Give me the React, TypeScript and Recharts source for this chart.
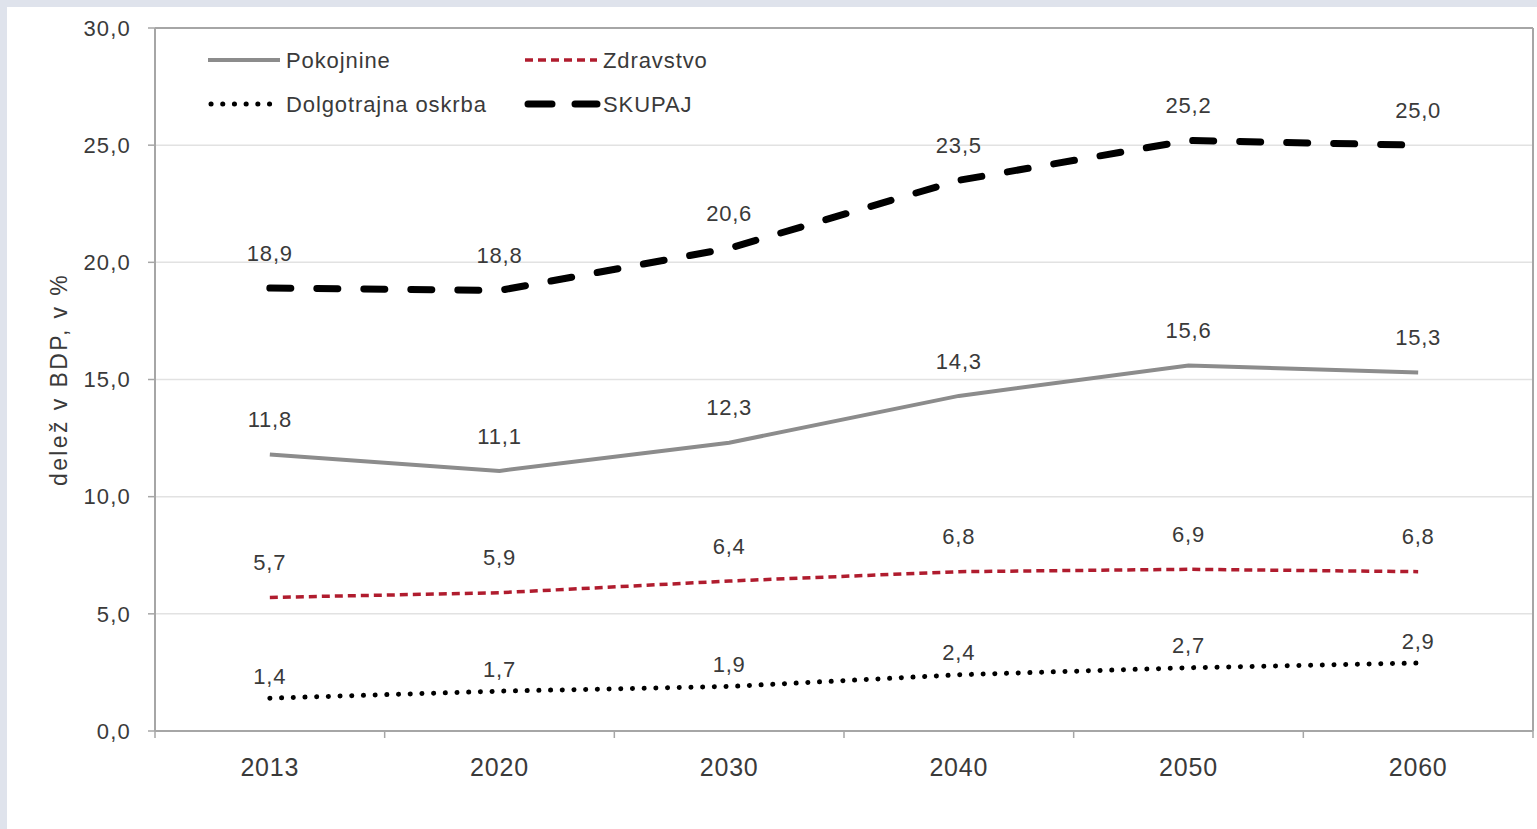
import React from 'react';
import { LineChart, Line, XAxis, YAxis, CartesianGrid, ReferenceLine, LabelList } from 'recharts';

const categories = ['2013', '2020', '2030', '2040', '2050', '2060'];
const pokojnine = [11.8, 11.1, 12.3, 14.3, 15.6, 15.3];
const zdravstvo = [5.7, 5.9, 6.4, 6.8, 6.9, 6.8];
const dolgotrajna = [1.4, 1.7, 1.9, 2.4, 2.7, 2.9];
const skupaj = [18.9, 18.8, 20.6, 23.5, 25.2, 25.0];
const yTicks = [0, 5, 10, 15, 20, 25, 30];
const xBoundaries = [0, 1, 2, 3, 4, 5, 6];

const data = categories.map((c, i) => ({
  pos: i + 0.5,
  year: c,
  pokojnine: pokojnine[i],
  zdravstvo: zdravstvo[i],
  dolgotrajna: dolgotrajna[i],
  skupaj: skupaj[i],
}));

const CHART_W = 1530;
const CHART_H = 822;
const MARGIN = { top: 21, right: 4, left: 8, bottom: 38 };
const Y_AXIS_W = 140;
const PLOT_W = CHART_W - MARGIN.left - Y_AXIS_W - MARGIN.right;
const BAND = PLOT_W / categories.length;

const TEXT = '#3a3a3a';
const AXIS = '#a6a6a6';
const FONT = '"Liberation Sans", Arial, sans-serif';

const fmt = (v: number) => v.toFixed(1).replace('.', ',');

const XTick = (props: any) => {
  const { x, y, payload } = props;
  const idx = payload.value;
  if (idx >= categories.length) return null;
  return (
    <text x={x + BAND / 2} y={y + 27} dy="0.35em" textAnchor="middle" fill={TEXT}
      fontSize={25} letterSpacing={0.8} fontFamily={FONT}>
      {categories[idx]}
    </text>
  );
};

const YTick = (props: any) => {
  const { x, y, payload } = props;
  return (
    <text x={x} y={y} dy="0.35em" textAnchor="end" fill={TEXT}
      fontSize={22} letterSpacing={1.2} fontFamily={FONT}>
      {fmt(payload.value)}
    </text>
  );
};

const YLabel = (props: any) => {
  const { viewBox } = props;
  const cx = 52;
  const cy = viewBox.y + viewBox.height / 2;
  return (
    <text x={cx} y={cy} dy="0.35em" textAnchor="middle" fill={TEXT} fontSize={23}
      letterSpacing={2.4} fontFamily={FONT} transform={`rotate(-90 ${cx} ${cy})`}>
      delež v BDP, v %
    </text>
  );
};

const makeLabel = (off: number) => (props: any) => {
  const { x, y, value } = props;
  return (
    <text x={x} y={y - off} dy="0.35em" textAnchor="middle" fill={TEXT}
      fontSize={22} letterSpacing={0.8} fontFamily={FONT}>
      {fmt(value)}
    </text>
  );
};

const legendItems = [
  { name: 'Pokojnine', stroke: '#8c8c8c', width: 4, dash: undefined as string | undefined, cap: 'butt', col: 0, row: 0 },
  { name: 'Zdravstvo', stroke: '#b01c2e', width: 3.5, dash: '8 5', cap: 'butt', col: 1, row: 0 },
  { name: 'Dolgotrajna oskrba', stroke: '#000000', width: 5, dash: '0.1 11.6', cap: 'round', col: 0, row: 1 },
  { name: 'SKUPAJ', stroke: '#000000', width: 7, dash: '24 23', cap: 'round', col: 1, row: 1 },
];

const LegendOverlay = () => (
  <svg width={CHART_W} height={CHART_H} style={{ position: 'absolute', left: 0, top: 0, pointerEvents: 'none' }}>
    {legendItems.map((it) => {
      const x0 = it.col === 0 ? 201 : 518;
      const y0 = it.row === 0 ? 53 : 97;
      return (
        <g key={it.name}>
          <line x1={x0 + (it.cap === 'round' ? 3 : 0)} y1={y0} x2={x0 + 72} y2={y0} stroke={it.stroke}
            strokeWidth={it.width} strokeDasharray={it.dash} strokeLinecap={it.cap as any} />
          <text x={x0 + 78} y={y0} dy="0.35em" fill={TEXT} fontSize={22} letterSpacing={0.9} fontFamily={FONT}>
            {it.name}
          </text>
        </g>
      );
    })}
  </svg>
);

export default function App() {
  return (
    <div style={{ position: 'fixed', left: 0, top: 0, width: 1537, height: 829, background: '#dfe3ec', overflow: 'hidden' }}>
      <div style={{ position: 'absolute', left: 7, top: 7, width: CHART_W, height: CHART_H, background: '#ffffff' }}>
        <LineChart width={CHART_W} height={CHART_H} data={data} margin={MARGIN}>
          <CartesianGrid vertical={false} stroke="#e2e2e2" strokeWidth={1.5} />
          <XAxis dataKey="pos" type="number" domain={[0, 6]} ticks={xBoundaries} interval={0}
            height={60} tick={<XTick />} tickSize={7} tickLine={{ stroke: AXIS, strokeWidth: 1.5 }}
            axisLine={{ stroke: AXIS, strokeWidth: 2 }} />
          <YAxis domain={[0, 30]} ticks={yTicks} interval={0} width={Y_AXIS_W} tick={<YTick />}
            tickSize={7} tickMargin={17} tickLine={{ stroke: AXIS, strokeWidth: 1.5 }}
            axisLine={{ stroke: AXIS, strokeWidth: 2 }} label={<YLabel />} />
          <ReferenceLine y={30} stroke={AXIS} strokeWidth={2} />
          <ReferenceLine x={6} stroke={AXIS} strokeWidth={2} />
          <Line type="linear" dataKey="pokojnine" stroke="#8c8c8c" strokeWidth={4} dot={false} isAnimationActive={false}>
            <LabelList dataKey="pokojnine" content={makeLabel(35)} />
          </Line>
          <Line type="linear" dataKey="zdravstvo" stroke="#b01c2e" strokeWidth={3.5} strokeDasharray="8 5" dot={false} isAnimationActive={false}>
            <LabelList dataKey="zdravstvo" content={makeLabel(35)} />
          </Line>
          <Line type="linear" dataKey="dolgotrajna" stroke="#000000" strokeWidth={5} strokeDasharray="0.1 11.6" strokeLinecap="round" dot={false} isAnimationActive={false}>
            <LabelList dataKey="dolgotrajna" content={makeLabel(22)} />
          </Line>
          <Line type="linear" dataKey="skupaj" stroke="#000000" strokeWidth={7} strokeDasharray="21 26" strokeLinecap="round" dot={false} isAnimationActive={false}>
            <LabelList dataKey="skupaj" content={makeLabel(35)} />
          </Line>
        </LineChart>
        <LegendOverlay />
      </div>
    </div>
  );
}
